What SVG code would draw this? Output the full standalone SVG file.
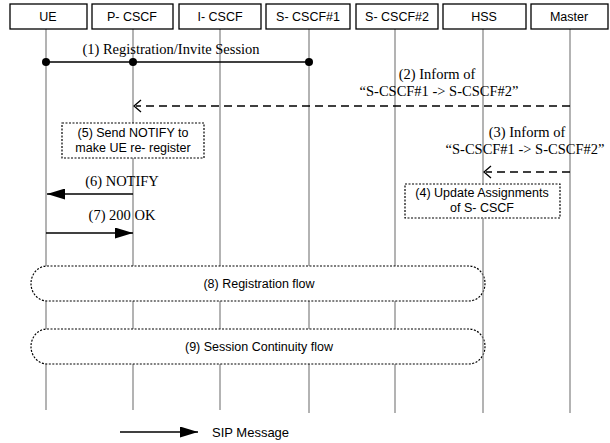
<svg xmlns="http://www.w3.org/2000/svg" width="610" height="443" viewBox="0 0 610 443">
<style>
.hdr{fill:#fff;stroke:#000;stroke-width:1.3}
.ht{font-family:"Liberation Sans",Arial,sans-serif;font-size:12.5px;text-anchor:middle;fill:#000}
.life{stroke:#8a8a8a;stroke-width:1.3;fill:none}
.msg{stroke:#000;stroke-width:1.3;fill:none}
.dash{stroke:#000;stroke-width:1.5;fill:none;stroke-dasharray:8 5}
.chev{stroke:#000;stroke-width:1.3;fill:none}
.lbl{font-family:"Liberation Serif","Times New Roman",serif;font-size:14.5px;text-anchor:middle;fill:#000}
.note{fill:#fff;stroke:#000;stroke-width:1.2;stroke-dasharray:2 1.5}
.nt{font-family:"Liberation Sans",Arial,sans-serif;font-size:12.5px;text-anchor:middle;fill:#000}
</style>
<defs>
<marker id="tri" markerWidth="18" markerHeight="11" refX="18" refY="5.5" orient="auto" markerUnits="userSpaceOnUse">
<path d="M0,0 L18,5.5 L0,11 Z" fill="#000"/>
</marker>
</defs>
<rect width="610" height="443" fill="#fff"/>

<g id="UE">
<line class="life" x1="46" y1="29" x2="46" y2="410"/>
<rect class="hdr" x="10" y="4" width="77" height="25"/>
<text class="ht" x="48" y="21">UE</text>
</g>
<g id="P-CSCF">
<line class="life" x1="133" y1="29" x2="133" y2="410"/>
<rect class="hdr" x="92" y="4" width="81" height="25"/>
<text class="ht" x="132" y="21">P- CSCF</text>
</g>
<g id="I-CSCF">
<line class="life" x1="220" y1="29" x2="220" y2="410"/>
<rect class="hdr" x="179" y="4" width="82" height="25"/>
<text class="ht" x="220" y="21">I- CSCF</text>
</g>
<g id="S-CSCF1">
<line class="life" x1="309" y1="29" x2="309" y2="413"/>
<rect class="hdr" x="266" y="4" width="84" height="25"/>
<text class="ht" x="308" y="21">S- CSCF#1</text>
</g>
<g id="S-CSCF2">
<line class="life" x1="395" y1="29" x2="395" y2="413"/>
<rect class="hdr" x="356" y="4" width="82" height="25"/>
<text class="ht" x="397" y="21">S- CSCF#2</text>
</g>

<g id="note5">
<rect class="note" x="62" y="123" width="142" height="35"/>
<text class="nt" x="133" y="137">(5) Send NOTIFY to</text>
<text class="nt" x="133" y="152">make UE re- register</text>
</g>
<g id="note4">
<rect class="note" x="405" y="184" width="155" height="34"/>
<text class="nt" x="482" y="197">(4) Update Assignments</text>
<text class="nt" x="482" y="212">of S- CSCF</text>
</g>
<g id="flow8">
<rect class="note" x="31" y="266" width="454" height="35" rx="16" ry="17.5"/>
<text class="nt" x="259" y="288">(8) Registration flow</text>
</g>
<g id="flow9">
<rect class="note" x="31" y="329" width="454" height="35" rx="16" ry="17.5"/>
<text class="nt" x="259" y="351">(9) Session Continuity flow</text>
</g>

<g id="HSS">
<line class="life" x1="483" y1="29" x2="483" y2="184"/>
<line class="life" x1="483" y1="218" x2="483" y2="413"/>
<rect class="hdr" x="443" y="4" width="83" height="25"/>
<text class="ht" x="484" y="21">HSS</text>
</g>
<g id="Master">
<line class="life" x1="570" y1="29" x2="570" y2="413"/>
<rect class="hdr" x="531" y="4" width="77" height="25"/>
<text class="ht" x="569" y="21">Master</text>
</g>

<g id="connectors">
<line class="msg" x1="46" y1="62" x2="309" y2="62"/>
<circle cx="46" cy="62" r="4" fill="#000"/>
<circle cx="133" cy="62" r="4" fill="#000"/>
<circle cx="309" cy="62" r="4" fill="#000"/>
<text class="lbl" x="171" y="54">(1) Registration/Invite Session</text>

<line class="dash" x1="570" y1="106" x2="136" y2="106"/>
<polyline class="chev" points="141,100 134,106 141,112"/>
<text class="lbl" x="437" y="79">(2) Inform of</text>
<text class="lbl" x="439" y="96">“S-CSCF#1 -&gt; S-CSCF#2”</text>

<line class="dash" x1="570" y1="172" x2="486" y2="172"/>
<polyline class="chev" points="491,166 484,172 491,178"/>
<text class="lbl" x="527" y="137">(3) Inform of</text>
<text class="lbl" x="525" y="154">“S-CSCF#1 -&gt; S-CSCF#2”</text>

<line class="msg" x1="133" y1="194" x2="47" y2="194" marker-end="url(#tri)"/>
<text class="lbl" x="122" y="186">(6) NOTIFY</text>

<line class="msg" x1="46" y1="233" x2="133" y2="233" marker-end="url(#tri)"/>
<text class="lbl" x="122" y="220">(7) 200 OK</text>
</g>

<g id="legend">
<line class="msg" x1="120" y1="432" x2="198" y2="432" marker-end="url(#tri)"/>
<text class="nt" x="212" y="437" style="text-anchor:start;font-size:13px">SIP Message</text>
</g>
</svg>
